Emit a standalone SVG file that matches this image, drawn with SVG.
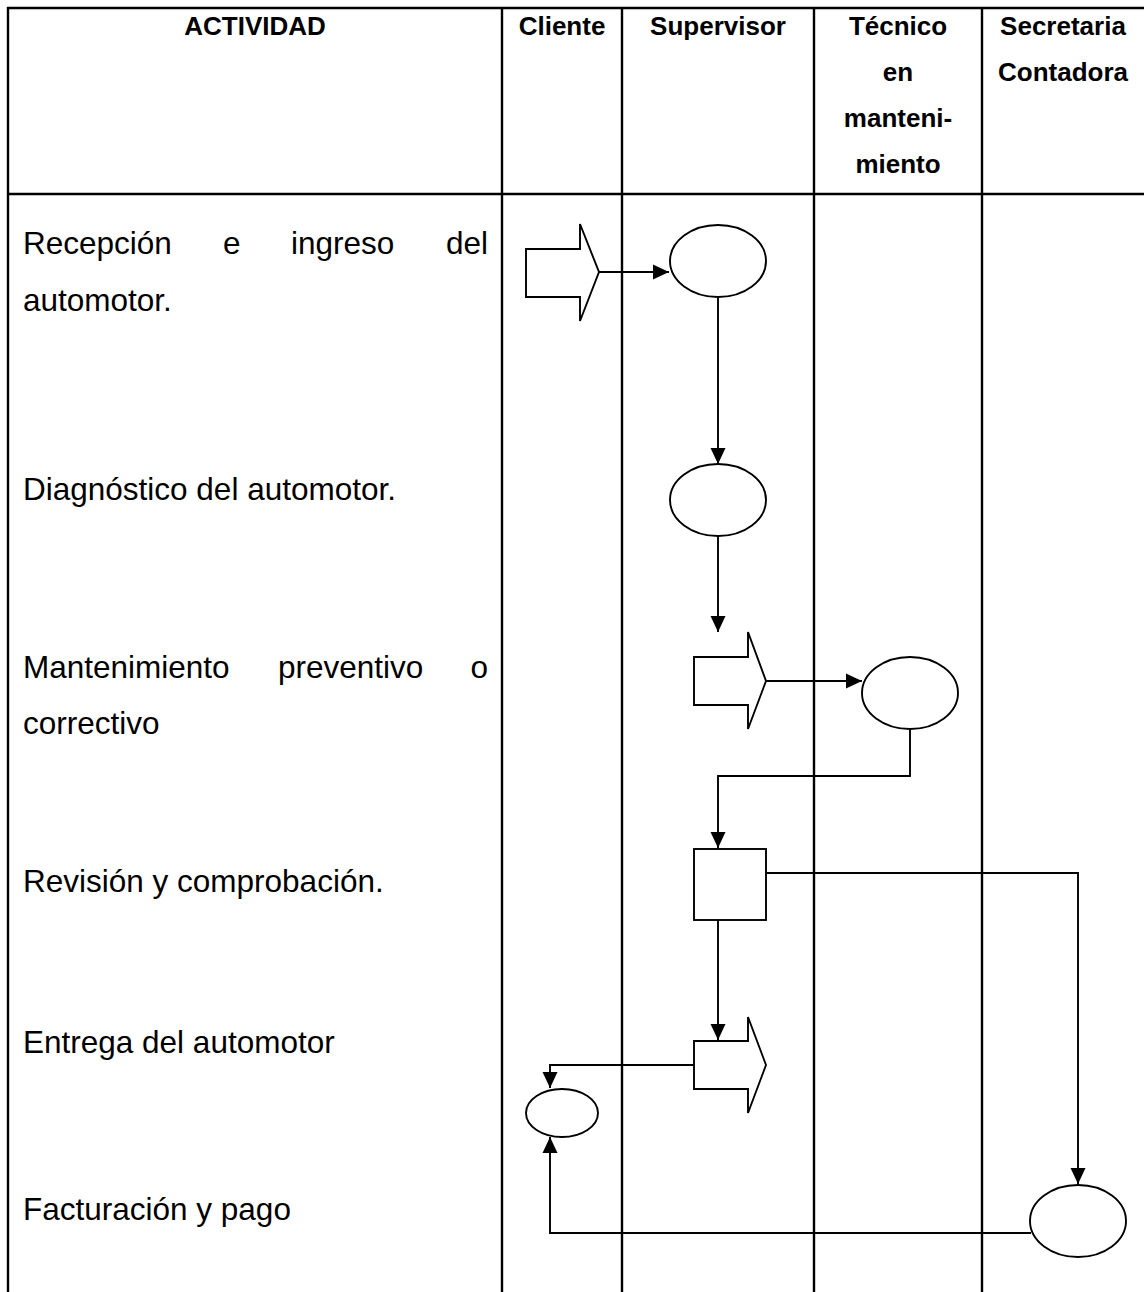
<svg xmlns="http://www.w3.org/2000/svg" width="1144" height="1292" viewBox="0 0 1144 1292">
<style>
.grid{stroke:#000;stroke-width:2.4;fill:none}
.shape{stroke:#000;stroke-width:1.9;fill:#fff}
.conn{stroke:#000;stroke-width:1.9;fill:none}
.hd{font-family:"Liberation Sans",Arial,sans-serif;font-weight:bold;font-size:26px;fill:#000;text-anchor:middle}
.bd{font-family:"Liberation Sans",Arial,sans-serif;font-size:31.5px;fill:#000}
</style>
<defs>
<marker id="ah" markerUnits="userSpaceOnUse" markerWidth="17" markerHeight="16" refX="16" refY="8" orient="auto">
<path d="M0,0.5 L16,8 L0,15.5 z" fill="#000"/>
</marker>
</defs>
<rect width="1144" height="1292" fill="#fff"/>
<g id="table">
<line class="grid" x1="7" y1="8" x2="1144" y2="8"/>
<line class="grid" x1="7" y1="194" x2="1144" y2="194"/>
<line class="grid" x1="8" y1="7" x2="8" y2="1292"/>
<line class="grid" x1="502" y1="7" x2="502" y2="1292"/>
<line class="grid" x1="622" y1="7" x2="622" y2="1292"/>
<line class="grid" x1="814" y1="7" x2="814" y2="1292"/>
<line class="grid" x1="982" y1="7" x2="982" y2="1292"/>
</g>
<g id="headers">
<text class="hd" x="255" y="35">ACTIVIDAD</text>
<text class="hd" x="562" y="35">Cliente</text>
<text class="hd" x="718" y="35">Supervisor</text>
<text class="hd" x="898" y="35">Técnico</text>
<text class="hd" x="898" y="81">en</text>
<text class="hd" x="898" y="127">manteni-</text>
<text class="hd" x="898" y="173">miento</text>
<text class="hd" x="1063" y="35">Secretaria</text>
<text class="hd" x="1063" y="81">Contadora</text>
</g>
<g id="activities">
<text class="bd" x="23" y="254">Recepción</text>
<text class="bd" x="223" y="254">e</text>
<text class="bd" x="291" y="254">ingreso</text>
<text class="bd" x="488" y="254" text-anchor="end">del</text>
<text class="bd" x="23" y="311">automotor.</text>
<text class="bd" x="23" y="500">Diagnóstico del automotor.</text>
<text class="bd" x="23" y="678">Mantenimiento</text>
<text class="bd" x="278" y="678">preventivo</text>
<text class="bd" x="488" y="678" text-anchor="end">o</text>
<text class="bd" x="23" y="734">correctivo</text>
<text class="bd" x="23" y="892">Revisión y comprobación.</text>
<text class="bd" x="23" y="1053">Entrega del automotor</text>
<text class="bd" x="23" y="1220">Facturación y pago</text>
</g>
<g id="connectors">
<line class="conn" x1="599" y1="272" x2="669" y2="272" marker-end="url(#ah)"/>
<line class="conn" x1="718" y1="297" x2="718" y2="464" marker-end="url(#ah)"/>
<line class="conn" x1="718" y1="536" x2="718" y2="632" marker-end="url(#ah)"/>
<line class="conn" x1="766" y1="681" x2="862" y2="681" marker-end="url(#ah)"/>
<polyline class="conn" points="910,729 910,776 718,776 718,848" marker-end="url(#ah)"/>
<polyline class="conn" points="766,873 1078,873 1078,1184" marker-end="url(#ah)"/>
<line class="conn" x1="718" y1="920" x2="718" y2="1040" marker-end="url(#ah)"/>
<polyline class="conn" points="694,1065 550,1065 550,1088" marker-end="url(#ah)"/>
<polyline class="conn" points="1031,1233 550,1233 550,1137" marker-end="url(#ah)"/>
</g>
<g id="n1"><polygon class="shape" points="526,249 580,249 580,224 599,272 580,321 580,297 526,297"/></g>
<g id="n2"><ellipse class="shape" cx="718" cy="261" rx="48" ry="36"/></g>
<g id="n3"><ellipse class="shape" cx="718" cy="500" rx="48" ry="36"/></g>
<g id="n4"><polygon class="shape" points="694,657 748,657 748,632 766,681 748,729 748,705 694,705"/></g>
<g id="n5"><ellipse class="shape" cx="910" cy="693" rx="48" ry="36"/></g>
<g id="n6"><rect class="shape" x="694" y="849" width="72" height="71"/></g>
<g id="n7"><polygon class="shape" points="694,1041 748,1041 748,1017 766,1065 748,1113 748,1089 694,1089"/></g>
<g id="n8"><ellipse class="shape" cx="562" cy="1113" rx="36" ry="24"/></g>
<g id="n9"><ellipse class="shape" cx="1078" cy="1221" rx="48" ry="36"/></g>
</svg>
